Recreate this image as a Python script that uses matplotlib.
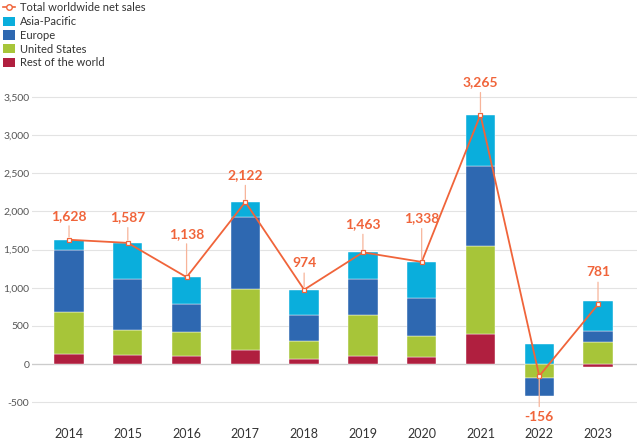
import matplotlib.pyplot as plt
import numpy as np
from matplotlib.lines import Line2D
from matplotlib.patches import Patch

plt.rcParams['font.family'] = ['Lato', 'DejaVu Sans']

years = ['2014', '2015', '2016', '2017', '2018', '2019', '2020', '2021', '2022', '2023']
rest_of_world = [130, 115, 105, 187, 65, 105, 96, 393, 0, -40]
united_states = [550, 335, 315, 791, 240, 532, 275, 1152, -187, 285]
europe = [820, 665, 362, 943, 337, 476, 497, 1048, -232, 152]
asia_pacific = [128, 472, 356, 201, 332, 350, 470, 672, 263, 384]
total_sales = [1628, 1587, 1138, 2122, 974, 1463, 1338, 3265, -156, 781]

# label offsets in points (vertical), negative = below
label_offsets = [13, 14, 27, 15, 15, 16, 27, 19, -25, 19]

series = [
    ('Rest of the world', rest_of_world, '#B01F3F'),
    ('United States', united_states, '#A7C539'),
    ('Europe', europe, '#2E68B1'),
    ('Asia-Pacific', asia_pacific, '#0AAEDC'),
]
line_color = '#F0643A'

fig = plt.figure(figsize=(6.4, 4.42), dpi=100)
ax = fig.add_axes([0.05, 0.064, 0.945, 0.755])

x = np.arange(len(years))
pos_base = np.zeros(len(years))
neg_base = np.zeros(len(years))
for name, vals, color in series:
    v = np.array(vals, dtype=float)
    bottom = np.where(v >= 0, pos_base, neg_base)
    ax.bar(x, v, bottom=bottom, width=0.5, color=color,
           edgecolor='white', linewidth=0.3, zorder=2)
    pos_base += np.where(v >= 0, v, 0)
    neg_base += np.where(v < 0, v, 0)

ax.plot(x, total_sales, color=line_color, lw=1.3, marker='s', markersize=3.5,
        markerfacecolor='white', markeredgecolor=line_color, markeredgewidth=0.9,
        zorder=4)

for xi, val, off in zip(x, total_sales, label_offsets):
    ax.annotate(f'{val:,}', xy=(xi, val), xytext=(0, off), textcoords='offset points',
                ha='center', va='bottom' if off > 0 else 'top',
                color=line_color, fontsize=10, fontweight='bold',
                arrowprops=dict(arrowstyle='-', color='#F7B49A', lw=0.9,
                                shrinkA=1, shrinkB=2),
                zorder=5)

ax.set_xlim(-0.63, 9.66)
ax.set_ylim(-650, 3720)
ax.set_yticks(range(-500, 3501, 500))
ax.set_yticklabels([f'{t:,}' for t in range(-500, 3501, 500)])
ax.set_xticks(x)
ax.set_xticklabels(years)
ax.tick_params(axis='y', length=0, labelsize=7.5, labelcolor='#555555', pad=2)
ax.tick_params(axis='x', length=0, labelsize=9, labelcolor='#333333', pad=10)
for s in ax.spines.values():
    s.set_visible(False)
ax.grid(axis='y', color='#E3E3E3', lw=0.8, zorder=0)
ax.axhline(0, color='#CCCCCC', lw=0.9, zorder=1)
ax.set_axisbelow(True)

handles = [Line2D([0], [0], color=line_color, lw=1.2, marker='o', markersize=4,
                  markerfacecolor='white', markeredgecolor=line_color)]
labels = ['Total worldwide net sales']
for name, vals, color in reversed(series):
    handles.append(Patch(facecolor=color, edgecolor='none'))
    labels.append(name)
fig.legend(handles, labels, loc='upper left', bbox_to_anchor=(-0.005, 1.01),
           frameon=False, fontsize=8, handlelength=1.0, handleheight=0.9,
           handletextpad=0.5, labelspacing=0.25, borderaxespad=0.2,
           labelcolor='#333333')

fig.savefig('out.png', dpi=100)
